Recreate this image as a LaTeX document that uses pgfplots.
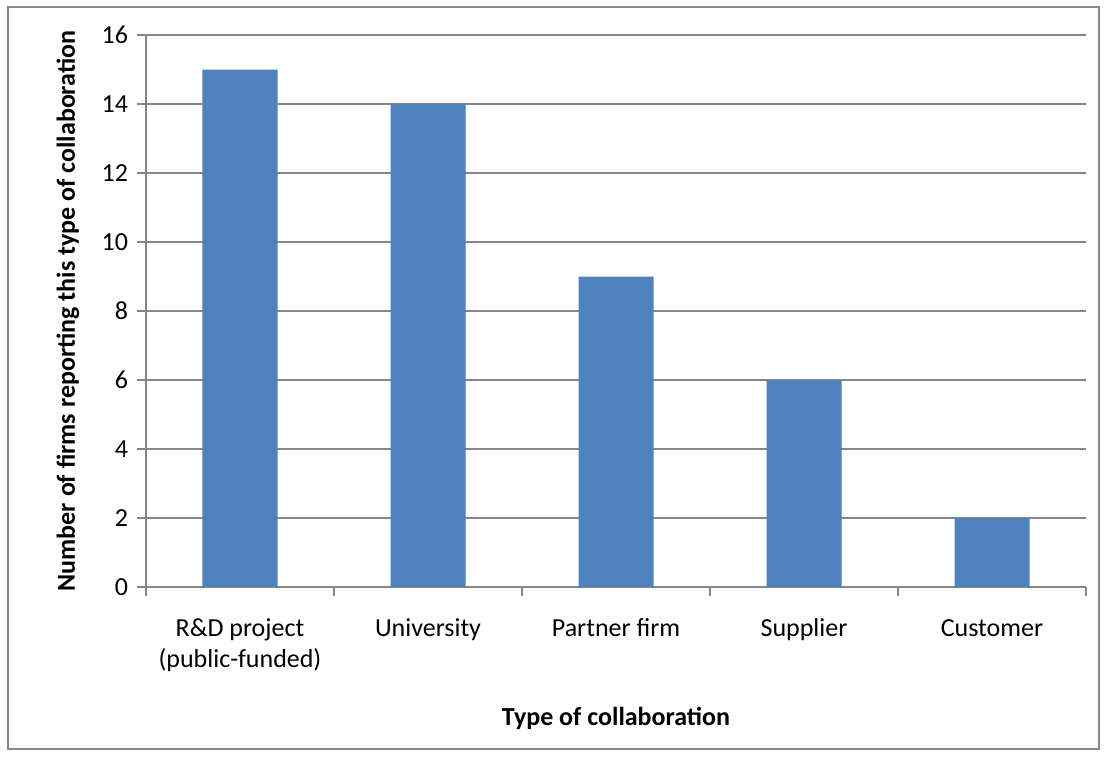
\documentclass[border=0pt]{standalone}
\usepackage{fontspec}
\setmainfont{Carlito}
\usepackage{pgfplots}
\pgfplotsset{compat=1.18}
\definecolor{barblue}{HTML}{4F81BD}
\definecolor{gridgray}{HTML}{868686}
\begin{document}
\begin{tikzpicture}[x=1pt,y=1pt,font=\fontsize{13}{15.2}\selectfont]
\fill[white] (0,0) rectangle (553.5,378);
\draw[gridgray,line width=0.6pt] (4,3.5) rectangle (549.5,374.5);
\begin{axis}[
  at={(73pt,84.5pt)}, anchor=south west,
  scale only axis, width=470pt, height=276pt,
  xmin=-0.5, xmax=4.5, ymin=0, ymax=16,
  axis x line*=bottom, axis y line*=left,
  axis line style={gridgray, line width=0.7pt},
  tick align=outside,
  major tick length=4.5pt,
  tick style={gridgray, line width=0.7pt},
  ytick={0,2,...,16},
  ymajorgrids, grid style={gridgray, line width=0.7pt},
  xtick={-0.5,0.5,...,4.5}, xticklabels={},
  extra x ticks={0,1,2,3,4},
  extra x tick labels={\strut R\&D project\\(public-funded),\strut University,\strut Partner firm,\strut Supplier,\strut Customer},
  extra x tick style={major tick length=0pt, grid=none},
  xticklabel style={align=center, anchor=north, inner sep=0pt, yshift=-14pt},
  /pgf/number format/assume math mode=true,
  yticklabel style={font=\fontsize{13}{15.2}\selectfont, xshift=-1pt},
  xlabel={\bfseries Type of collaboration},
  ylabel={\bfseries Number of firms reporting this type of collaboration},
  xlabel style={at={(axis description cs:0.5,0)}, anchor=base, yshift=-69pt},
  ylabel style={at={(axis description cs:0,0.5)}, anchor=center, yshift=39pt},
  ybar, bar width=37.5pt,
]
\addplot[fill=barblue, draw=none, bar shift=0pt] coordinates {(0,15) (1,14) (2,9) (3,6) (4,2)};
\end{axis}
\end{tikzpicture}
\end{document}
